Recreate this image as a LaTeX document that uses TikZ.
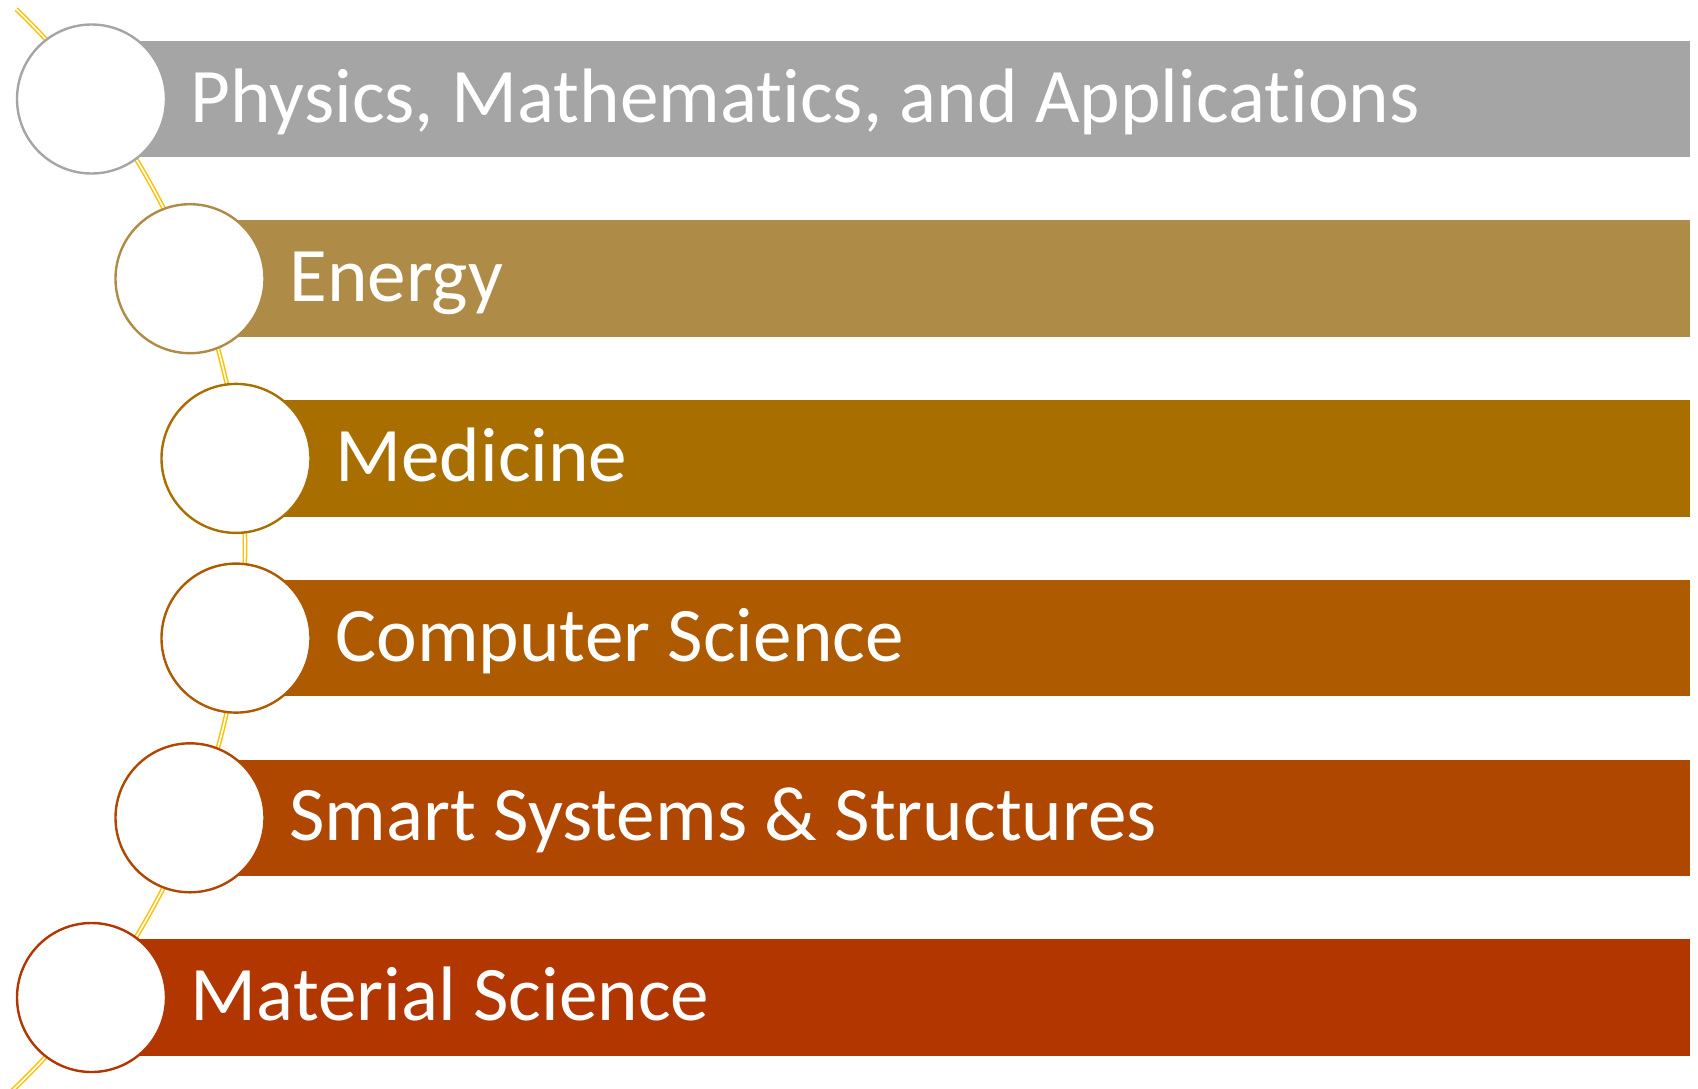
\documentclass[tikz,border=0pt]{standalone}
\usepackage{fontspec}
\setmainfont{Carlito}[Ligatures={NoCommon}]
\definecolor{c1}{HTML}{A5A5A5}
\definecolor{c2}{HTML}{AE8B47}
\definecolor{c3}{HTML}{A86F00}
\definecolor{c4}{HTML}{AD5A00}
\definecolor{c5}{HTML}{AF4700}
\definecolor{c6}{HTML}{B23600}
\definecolor{linkyellow}{HTML}{FFC000}
\begin{document}
\begin{tikzpicture}[x=0.5pt,y=-0.5pt,
 bar/.style={fill=#1, draw=none, inner sep=0pt, minimum height=58.3pt, anchor=east},
 ring/.style={circle, draw=#1, fill=white, line width=1.2pt, minimum size=74.5pt, inner sep=0pt},
 lbl/.style={text=white, font=\fontsize{38.6}{40}\selectfont, anchor=base west, inner sep=0pt},
 link/.style={draw=linkyellow, double=white, line width=0.75pt, double distance=0.8pt}]
\useasboundingbox (0,0) rectangle (1698,1088);
\clip (0,0) rectangle (1698,1088);
\coordinate (arcstart) at (16.3,9.2);
\draw[link] (arcstart) arc[start angle=-46, end angle=50, radius=749];
\foreach \i/\cx/\cy/\col/\txt in {
 1/91.5/99/c1/{Physics, Mathematics, and Applications},
 2/190/278.7/c2/{Energy},
 3/236/458.4/c3/{Medicine},
 4/236/638.1/c4/{Computer Science},
 5/190/817.8/c5/{Smart Systems \& Structures},
 6/91.5/997.5/c6/{Material Science}}{
 \pgfmathsetmacro{\bw}{(1690.7-\cx)*0.5}
 \node (bar\i) [bar=\col, minimum width=\bw pt] at (1690.7,\cy) {};
 \node (ring\i) [ring=\col] at (\cx,\cy) {};
 \node (lbl\i) [lbl] at (\cx+99,\cy+23) {\txt};
}
\end{tikzpicture}
\end{document}
